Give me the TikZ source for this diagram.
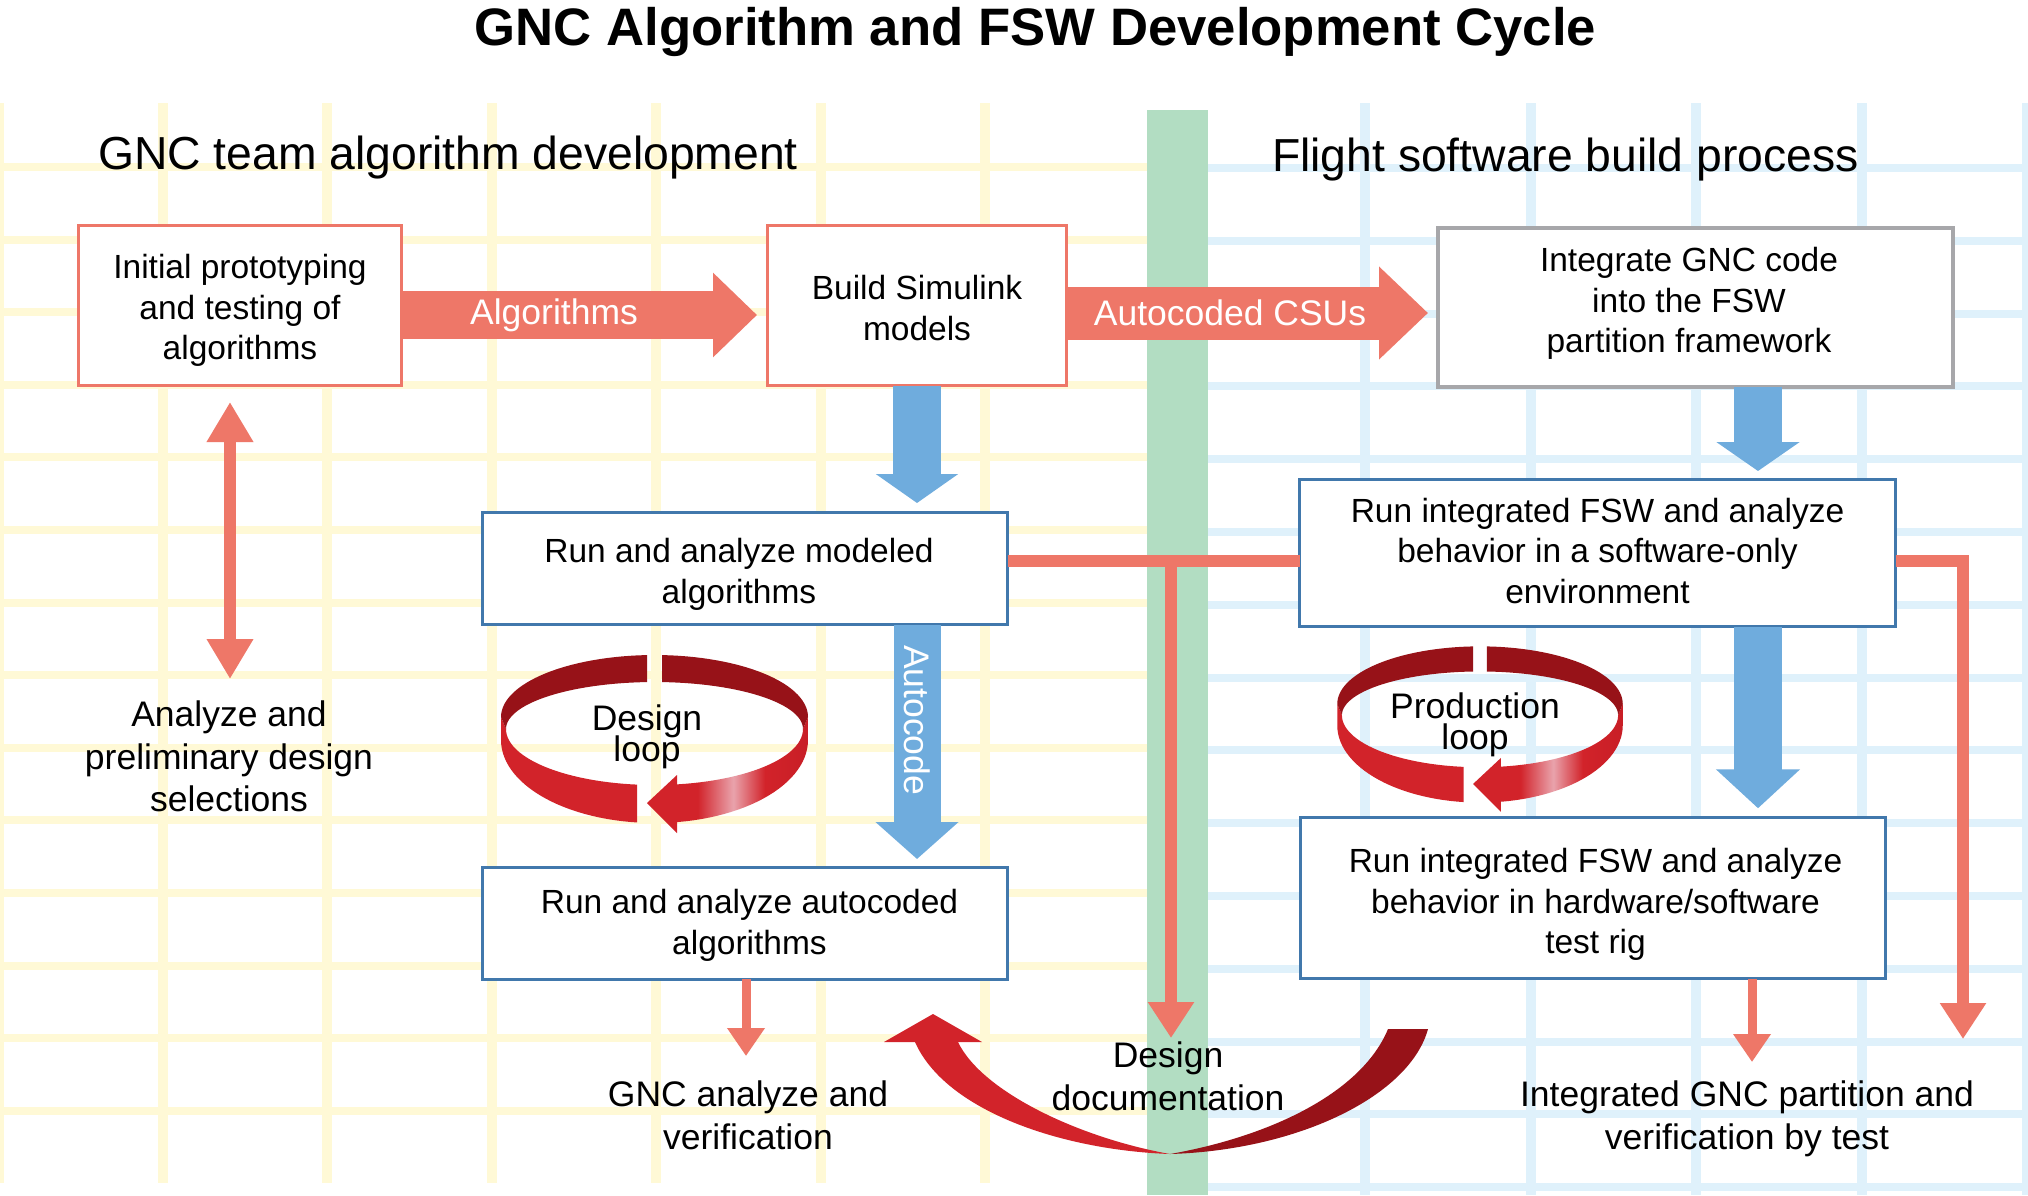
\documentclass[tikz,border=0pt]{standalone}
\usepackage{fontspec}
\setmainfont{Liberation Sans}
\usetikzlibrary{arrows.meta}

\definecolor{salmon}{RGB}{238,119,104}
\definecolor{arrblue}{RGB}{111,172,221}
\definecolor{boxblue}{RGB}{65,120,172}
\definecolor{boxgray}{RGB}{167,167,170}
\definecolor{ygrid}{RGB}{255,249,214}
\definecolor{bgrid}{RGB}{223,241,251}
\definecolor{gband}{RGB}{178,221,194}
\definecolor{loopred}{RGB}{210,35,42}
\definecolor{loopredb}{RGB}{200,30,38}
\definecolor{loopdark}{RGB}{151,18,24}
\definecolor{looppink}{RGB}{233,163,172}

\pgfdeclarehorizontalshading{loopsh}{100bp}{color(0bp)=(loopred); color(33bp)=(loopred); color(46.5bp)=(looppink); color(58.5bp)=(loopred); color(75bp)=(loopredb); color(100bp)=(loopredb)}

\newcommand\bxfont{\fontsize{33.5}{40.5}\selectfont}
\newcommand\lblfont{\fontsize{35.5}{42.7}\selectfont}
\newcommand\loopfont{\fontsize{35.5}{30.5}\selectfont\lineskiplimit=-100pt}
\newcommand\hdfont{\fontsize{46.3}{55}\selectfont}
\newcommand\ttlfont{\fontsize{52.7}{60}\selectfont\bfseries}

\newcommand\drawloop[3]{%
\begin{scope}[shift={(#1,#2)},scale=#3]
 \begin{scope}
  \clip (-200,-100) rectangle (-17.5,200);
  \fill[loopred] (-153.5,0) -- (-153.5,23) -- plot[domain=180:0,samples=61] ({153.5*cos(\x)},{23+83*sin(\x)}) -- (153.5,0) -- plot[domain=0:180,samples=61] ({148.5*cos(\x)},{12+56*sin(\x)}) -- cycle;
 \end{scope}
 \begin{scope}
  \clip (22,-100) rectangle (200,200);
  \clip (-153.5,0) -- (-153.5,23) -- plot[domain=180:0,samples=61] ({153.5*cos(\x)},{23+83*sin(\x)}) -- (153.5,0) -- plot[domain=0:180,samples=61] ({148.5*cos(\x)},{12+56*sin(\x)}) -- cycle;
  \shade[shading=loopsh] (22,-10) rectangle (154,120);
 \end{scope}
 \fill[loopred] (-7.5,86) -- (22.5,58) -- (22.5,116) -- cycle;
 \begin{scope}
  \clip (-200,-100) rectangle (-7.5,200) (7.5,-100) rectangle (200,200);
  \fill[loopdark] plot[domain=180:360,samples=61] ({153.5*cos(\x)},{62*sin(\x)}) -- plot[domain=360:180,samples=61] ({148.5*cos(\x)},{12+47*sin(\x)}) -- cycle;
 \end{scope}
\end{scope}}

\tikzset{
  every node/.style={inner sep=0pt, outer sep=0pt},
  bx/.style={draw, fill=white, line width=3pt},
  bxt/.style={align=center, font=\bxfont},
  lbl/.style={align=center, font=\lblfont},
  looplbl/.style={align=center, font=\loopfont},
  salline/.style={draw=salmon, line width=12pt},
  salarr/.style={salline, -{Triangle[length=36pt,width=44pt]}},
  dblarr/.style={salline, {Triangle[length=40pt,width=44pt]}-{Triangle[length=40pt,width=44pt]}},
  smallarr/.style={draw=salmon, line width=9pt, -{Triangle[length=28pt,width=36pt]}},
}

\begin{document}
\begin{tikzpicture}[x=1pt,y=-1pt]
\useasboundingbox (0,0) rectangle (2028,1195);
\fill[white] (0,0) rectangle (2028,1195);

% background grids
\foreach \i in {0,...,6} \draw[ygrid, line width=10pt] ({-1.5+164.4*\i},103) -- ({-1.5+164.4*\i},1183);
\foreach \j in {0,...,13} \draw[ygrid, line width=8pt] (0,{167+72.6*\j}) -- (1147,{167+72.6*\j});
\foreach \i in {0,...,4} \draw[bgrid, line width=10pt] ({1365+165.5*\i},103) -- ({1365+165.5*\i},1195);
\foreach \j in {0,...,14} \draw[bgrid, line width=8pt] (1208,{168+72.8*\j}) -- (2028,{168+72.8*\j});
\fill[gband] (1147,110) rectangle (1208,1195);

% titles
\node[font=\ttlfont, anchor=base] (title) at (1035.5,45) {GNC Algorithm and FSW Development Cycle};
\node[font=\hdfont, anchor=base west] (hleft) at (98,169) {GNC team algorithm development};
\node[font=\hdfont, anchor=base west] (hright) at (1272,171) {Flight software build process};

% boxes
\node[bx, draw=salmon, minimum width=323pt, minimum height=160pt] (init) at (240,305.5) {};
\node[bx, draw=salmon, minimum width=299pt, minimum height=160pt] (sim) at (917,305.5) {};
\node[bx, draw=boxgray, line width=4pt, minimum width=515pt, minimum height=159pt] (integ) at (1695.5,307.5) {};
\node[bx, draw=boxblue, minimum width=525pt, minimum height=112pt] (modeled) at (745,568.5) {};
\node[bx, draw=boxblue, minimum width=596pt, minimum height=147pt] (swonly) at (1597.5,553) {};
\node[bx, draw=boxblue, minimum width=525pt, minimum height=112pt] (auto) at (745,923) {};
\node[bx, draw=boxblue, minimum width=585pt, minimum height=161.5pt] (hw) at (1593,898) {};

% box texts
\node[bxt] (initT) at ([yshift=-5pt]init.center) {Initial prototyping\\and testing of\\algorithms};
\node[bxt] (simT) at ([yshift=-2.5pt]sim.center) {Build Simulink\\models};
\node[bxt] (integT) at ([xshift=-6.5pt,yshift=4pt]integ.center) {Integrate GNC code\\into the FSW\\partition framework};
\node[bxt] (modeledT) at ([xshift=-6pt,yshift=-6pt]modeled.center) {Run and analyze modeled\\algorithms};
\node[bxt] (swonlyT) at ([yshift=2pt]swonly.center) {Run integrated FSW and analyze\\behavior in a software-only\\environment};
\node[bxt] (autoT) at ([xshift=4.5pt,yshift=-2.5pt]auto.center) {Run and analyze autocoded\\algorithms};
\node[bxt] (hwT) at ([xshift=2.5pt,yshift=-6.5pt]hw.center) {Run integrated FSW and analyze\\behavior in hardware/software\\test rig};

% free labels
\node[lbl] (analyze) at (229,756.5) {Analyze and\\preliminary design\\selections};
\node[lbl] (gncver) at (748,1115.5) {GNC analyze and\\verification};
\node[lbl] (docu) at (1168,1076) {Design\\documentation};
\node[lbl] (intver) at (1747,1119) {Integrated GNC partition and\\verification by test};

% loops
\drawloop{654.5}{717}{1}
\drawloop{1480}{704}{0.93}
\node[looplbl] (dloop) at (647,737) {Design\\loop};
\node[looplbl] (ploop) at (1475,725) {Production\\loop};

% big bottom curved arrow
\fill[loopred] (915,1042) .. controls (945,1110) and (1060,1150) .. (1170,1154) .. controls (1080,1138) and (982,1092) .. (958,1042) -- cycle;
\fill[loopred] (884,1042) -- (933,1014) -- (982,1042) -- cycle;
\fill[loopdark] (1170,1154) .. controls (1300,1150) and (1410,1095) .. (1428,1029) -- (1388,1029) .. controls (1362,1092) and (1272,1136) .. (1170,1154) -- cycle;

% fat arrows
\coordinate (algy) at (0,315);
\coordinate (csuy) at (0,313);
\coordinate (rcol) at (1758,0);
\draw[salmon, line width=48pt, -{Triangle[length=44pt,width=82pt]}, shorten >=10.5pt] (init.east |- algy) -- (sim.west |- algy);
\draw[salmon, line width=53pt, -{Triangle[length=49pt,width=90pt]}, shorten >=10pt] (sim.east |- csuy) -- (integ.west |- csuy);
\node[font=\lblfont, text=white, anchor=base] (alglbl) at (554,324) {Algorithms};
\node[font=\lblfont, text=white, anchor=base] (csulbl) at (1230,325) {Autocoded CSUs};

\draw[arrblue, line width=48pt, -{Triangle[length=29pt,width=81pt]}, shorten >=9.5pt] (sim.south) -- (sim.south |- modeled.north);
\draw[arrblue, line width=47pt, -{Triangle[length=37pt,width=81pt]}, shorten >=8pt] (sim.south |- modeled.south) -- (sim.south |- auto.north);
\node[font=\lblfont, text=white, rotate=-90] (aclbl) at (917,720) {Autocode};
\draw[arrblue, line width=48pt, -{Triangle[length=29pt,width=82pt]}, shorten >=8.5pt] (rcol |- integ.south) -- (rcol |- swonly.north);
\draw[arrblue, line width=48pt, -{Triangle[length=39pt,width=82pt]}, shorten >=9pt] (rcol |- swonly.south) -- (rcol |- hw.north);

% thin salmon connectors
\coordinate (hl) at (0,561);
\coordinate (dtop) at (230,402);
\coordinate (dbot) at (230,679);
\coordinate (ddtop) at (1171,561);
\coordinate (ddtip) at (1171,1038);
\coordinate (rtip) at (1963,1039);
\coordinate (gtip) at (746,1056);
\coordinate (htip) at (1752,1062);
\draw[dblarr] (dtop) -- (dbot);
\draw[salline] (modeled.east |- hl) -- (swonly.west |- hl);
\draw[salarr] (ddtop) -- (ddtip);
\draw[salarr] (swonly.east |- hl) -| (rtip);
\draw[smallarr] (auto.south -| gtip) -- (gtip);
\draw[smallarr] (hw.south -| htip) -- (htip);
\end{tikzpicture}
\end{document}
